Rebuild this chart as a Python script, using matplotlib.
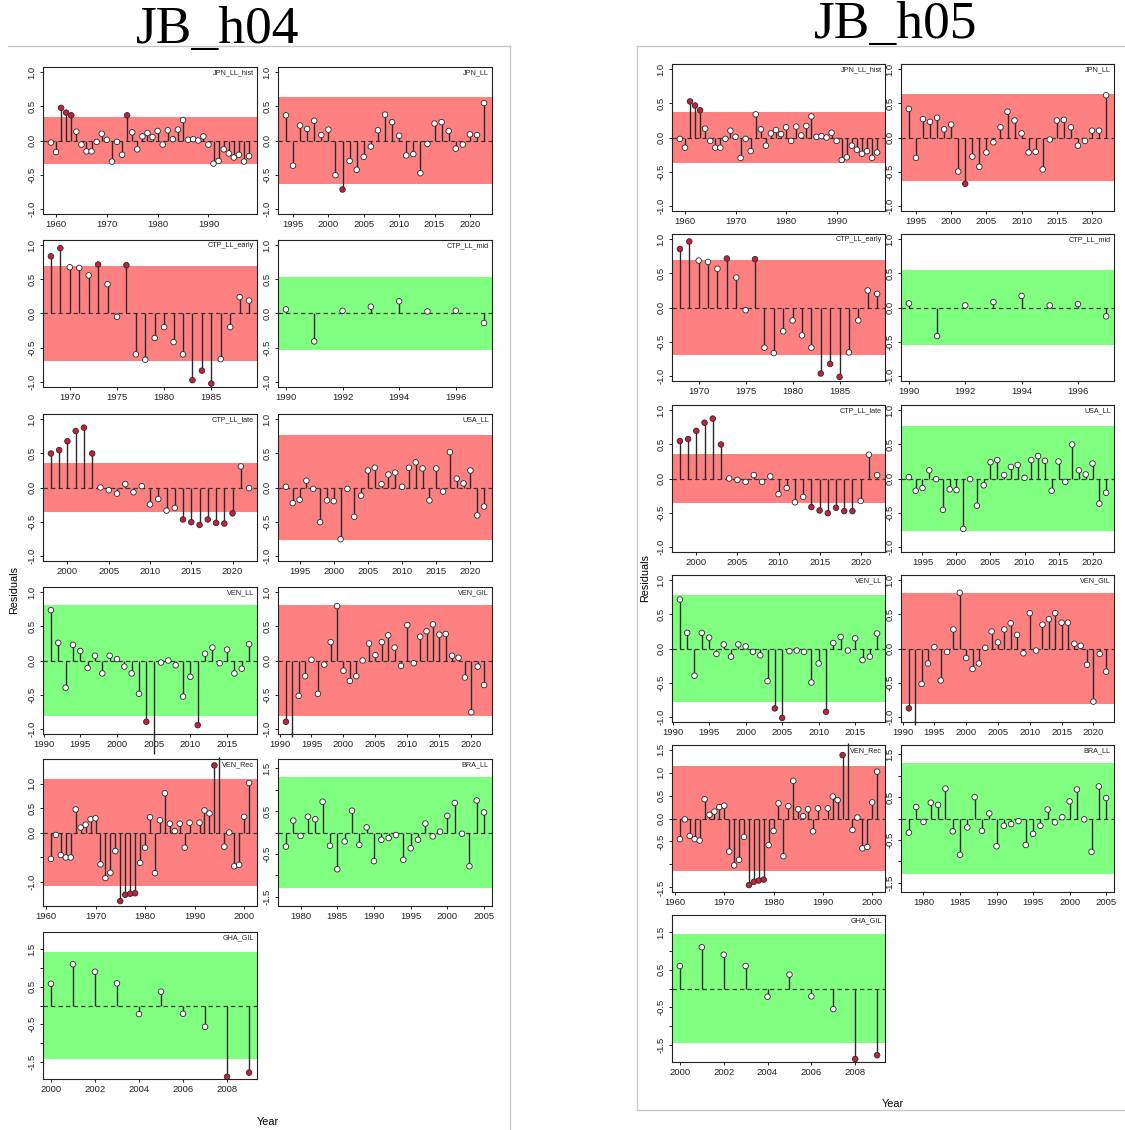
import numpy as np
import matplotlib
matplotlib.use("Agg")
import matplotlib.pyplot as plt
from matplotlib.ticker import MultipleLocator, FixedLocator, FixedFormatter
from matplotlib.lines import Line2D

plt.rcParams['font.family'] = ['Liberation Sans', 'DejaVu Sans']

# ---------------------------------------------------------------- data
fleets = ["JPN_LL_hist", "JPN_LL", "CTP_LL_early", "CTP_LL_mid", "CTP_LL_late",
          "USA_LL", "VEN_LL", "VEN_GIL", "VEN_Rec", "BRA_LL", "GHA_GIL"]

yrs_jpn_hist = np.arange(1959, 1999)
yrs_jpn = np.arange(1994, 2023)
yrs_ctp_early = np.arange(1968, 1990)
yrs_ctp_mid = np.arange(1990, 1998)
yrs_ctp_late = np.arange(1998, 2023)
yrs_usa = np.arange(1993, 2023)
yrs_ven_ll = np.arange(1991, 2019)
yrs_ven_gil = np.arange(1991, 2023)
yrs_ven_rec = np.arange(1961, 2002)
yrs_bra = np.arange(1978, 2006)
yrs_gha = np.arange(2000, 2010)

# ---- JB_h04 residuals (nan = no index value)
h04_jpn_hist = [-0.03, -0.17, 0.48, 0.41, 0.37, 0.13, -0.06, -0.16, -0.16, -0.02,
                0.10, 0.01, -0.31, -0.02, -0.21, 0.37, 0.12, -0.13, 0.06, 0.11,
                0.05, 0.14, -0.06, 0.15, 0.02, 0.16, 0.30, 0.01, 0.02, 0.00,
                0.06, -0.06, -0.34, -0.30, -0.13, -0.19, -0.25, -0.21, -0.31, -0.23]
h04_jpn = [0.37, -0.37, 0.22, 0.17, 0.29, 0.08, 0.16, -0.51, -0.72, -0.30,
           -0.43, -0.24, -0.09, 0.15, 0.38, 0.27, 0.07, -0.22, -0.20, -0.48,
           -0.05, 0.25, 0.27, 0.14, -0.12, -0.06, 0.09, 0.08, 0.55]
h04_ctp_early = [0.84, 0.96, 0.68, 0.67, 0.56, 0.72, 0.43, -0.05, 0.71, -0.60,
                 -0.68, -0.36, -0.20, -0.42, -0.60, -0.98, -0.84, -1.03, -0.67, -0.20,
                 0.24, 0.19]
h04_ctp_mid = [0.06, -0.41, 0.04, 0.10, 0.18, 0.03, 0.04, -0.14]
h04_ctp_late = [0.50, 0.55, 0.68, 0.83, 0.88, 0.50, 0.00, -0.04, -0.09, 0.05,
                -0.07, 0.02, -0.25, -0.17, -0.34, -0.30, -0.47, -0.51, -0.55, -0.47,
                -0.52, -0.53, -0.38, 0.31, -0.01]
h04_usa = [0.01, -0.23, -0.18, 0.10, -0.02, -0.51, -0.19, -0.20, -0.76, -0.02,
           -0.43, -0.12, 0.25, 0.29, 0.05, 0.19, 0.22, 0.01, 0.29, 0.37,
           0.28, -0.19, 0.28, -0.06, 0.52, 0.13, 0.06, 0.25, -0.41, -0.28]
h04_ven_ll = [0.74, 0.26, -0.40, 0.23, 0.14, -0.11, 0.07, -0.19, 0.07, 0.02,
              -0.09, -0.19, -0.49, -0.90, -1.37, -0.03, 0.00, -0.07, -0.53, -0.24,
              -0.95, 0.10, 0.19, -0.04, 0.16, -0.19, -0.12, 0.24]
h04_ven_gil = [-0.90, -1.12, -0.52, -0.23, 0.01, -0.49, -0.06, 0.27, 0.80, -0.15,
               -0.30, -0.23, 0.00, 0.25, 0.08, 0.27, 0.37, 0.19, -0.08, 0.52,
               -0.04, 0.35, 0.43, 0.53, 0.38, 0.39, 0.07, 0.04, -0.25, -0.76,
               -0.09, -0.36]
h04_ven_rec = [-0.54, -0.05, -0.46, -0.51, -0.51, 0.47, 0.10, 0.16, 0.27, 0.29,
               -0.65, -0.93, -0.82, -0.38, -1.40, -1.27, -1.25, -1.24, -0.62, -0.31,
               0.31, -0.83, 0.25, 0.80, 0.18, 0.03, 0.18, -0.31, 0.20, np.nan,
               0.20, 0.45, 0.39, 1.37, 1.55, -0.29, 0.00, -0.69, -0.66, 0.32,
               1.01]
h04_bra = [-0.33, 0.28, -0.08, 0.37, 0.31, 0.72, -0.31, -0.86, -0.21, 0.51,
           -0.29, 0.12, -0.67, -0.17, -0.13, -0.06, -0.64, -0.37, -0.17, 0.21,
           -0.09, 0.02, 0.39, 0.69, -0.03, -0.79, 0.75, 0.47]
h04_gha = [0.58, 1.10, 0.90, 0.59, -0.23, 0.37, -0.22, -0.57, -1.90, -1.79]

# ---- JB_h05 residuals
h05_jpn_hist = [-0.02, -0.15, 0.53, 0.47, 0.40, 0.13, -0.05, -0.15, -0.15, -0.02,
                0.10, 0.01, -0.30, -0.02, -0.20, 0.34, 0.12, -0.12, 0.06, 0.11,
                0.05, 0.15, -0.05, 0.16, 0.03, 0.17, 0.31, 0.01, 0.02, 0.00,
                0.07, -0.05, -0.33, -0.29, -0.12, -0.18, -0.24, -0.20, -0.30, -0.22]
h05_jpn = [0.42, -0.30, 0.27, 0.23, 0.29, 0.12, 0.19, -0.50, -0.68, -0.28,
           -0.43, -0.22, -0.07, 0.15, 0.38, 0.25, 0.06, -0.22, -0.21, -0.47,
           -0.03, 0.25, 0.26, 0.15, -0.12, -0.05, 0.10, 0.10, 0.62]
h05_ctp_early = [0.86, 0.97, 0.69, 0.67, 0.57, 0.72, 0.44, -0.04, 0.71, -0.59,
                 -0.67, -0.35, -0.19, -0.41, -0.59, -0.97, -0.83, -1.02, -0.66, -0.19,
                 0.25, 0.20]
h05_ctp_mid = [0.06, -0.42, 0.03, 0.08, 0.17, 0.03, 0.05, -0.13]
h05_ctp_late = [0.55, 0.58, 0.70, 0.82, 0.88, 0.50, 0.00, -0.02, -0.05, 0.05,
                -0.05, 0.03, -0.23, -0.14, -0.35, -0.27, -0.42, -0.47, -0.51, -0.43,
                -0.48, -0.48, -0.33, 0.35, 0.05]
h05_usa = [0.02, -0.18, -0.14, 0.12, -0.01, -0.46, -0.16, -0.17, -0.74, -0.01,
           -0.40, -0.10, 0.24, 0.27, 0.05, 0.17, 0.20, 0.01, 0.27, 0.33,
           0.26, -0.18, 0.25, -0.05, 0.50, 0.12, 0.06, 0.22, -0.37, -0.21]
h05_ven_ll = [0.72, 0.23, -0.40, 0.23, 0.16, -0.08, 0.06, -0.12, 0.06, 0.03,
              -0.05, -0.10, -0.48, -0.88, -1.02, -0.04, -0.03, -0.05, -0.50, -0.22,
              -0.93, 0.08, 0.17, -0.03, 0.15, -0.17, -0.12, 0.22]
h05_ven_gil = [-0.88, -1.12, -0.52, -0.22, 0.02, -0.47, -0.05, 0.28, 0.82, -0.14,
               -0.30, -0.22, 0.01, 0.25, 0.09, 0.28, 0.37, 0.20, -0.07, 0.52,
               -0.03, 0.35, 0.43, 0.52, 0.38, 0.38, 0.07, 0.04, -0.24, -0.78,
               -0.08, -0.34]
h05_ven_rec = [-0.45, -0.02, -0.38, -0.45, -0.48, 0.42, 0.08, 0.15, 0.25, 0.28,
               -0.72, -1.02, -0.90, -0.40, -1.45, -1.38, -1.35, -1.33, -0.58, -0.27,
               0.33, -0.82, 0.27, 0.82, 0.20, 0.05, 0.20, -0.28, 0.22, np.nan,
               0.22, 0.48, 0.40, 1.38, 1.65, -0.25, 0.02, -0.65, -0.62, 0.35,
               1.02]
h05_bra = [-0.33, 0.27, -0.08, 0.37, 0.32, 0.70, -0.30, -0.85, -0.21, 0.50,
           -0.29, 0.12, -0.65, -0.17, -0.13, -0.06, -0.62, -0.36, -0.17, 0.21,
           -0.09, 0.03, 0.40, 0.68, -0.02, -0.78, 0.75, 0.48]
h05_gha = [0.60, 1.10, 0.90, 0.60, -0.22, 0.37, -0.21, -0.55, -1.88, -1.78]

# Acceptance band (+/- limit) for each fleet and whether the runs test passed
h04_band = [0.35, 0.64, 0.695, 0.54, 0.365, 0.77, 0.81, 0.81, 1.10, 1.30, 1.43]
h04_pass = [False, False, False, True, False, False, True, False, False, True, True]
h05_band = [0.37, 0.64, 0.695, 0.55, 0.365, 0.77, 0.79, 0.82, 1.15, 1.30, 1.45]
h05_pass = [False, False, False, True, False, True, True, False, False, True, True]

# y-axis half range per fleet
h04_ylim = [1.08, 1.08, 1.08, 1.08, 1.08, 1.08, 1.08, 1.08, 1.50, 1.72, 1.96]
h05_ylim = [1.08, 1.08, 1.08, 1.08, 1.08, 1.08, 1.08, 1.08, 1.60, 1.72, 1.96]

year_sets = [yrs_jpn_hist, yrs_jpn, yrs_ctp_early, yrs_ctp_mid, yrs_ctp_late,
             yrs_usa, yrs_ven_ll, yrs_ven_gil, yrs_ven_rec, yrs_bra, yrs_gha]
h04_vals = [h04_jpn_hist, h04_jpn, h04_ctp_early, h04_ctp_mid, h04_ctp_late,
            h04_usa, h04_ven_ll, h04_ven_gil, h04_ven_rec, h04_bra, h04_gha]
h05_vals = [h05_jpn_hist, h05_jpn, h05_ctp_early, h05_ctp_mid, h05_ctp_late,
            h05_usa, h05_ven_ll, h05_ven_gil, h05_ven_rec, h05_bra, h05_gha]
x_steps = [10, 5, 5, 2, 5, 5, 5, 5, 10, 5, 2]

# ---------------------------------------------------------------- styling
RED_BAND = '#ff8080'
GREEN_BAND = '#80ff80'
OUT_PT = '#c4203c'
STEM = '#2b2b2b'

W_PX, H_PX = 1125, 1130
fig = plt.figure(figsize=(W_PX / 100, H_PX / 100), dpi=100)


def px_axes(left, top, width, height):
    return fig.add_axes([left / W_PX, 1 - (top + height) / H_PX,
                         width / W_PX, height / H_PX])


def y_ticks(lim):
    if lim < 1.2:
        t = [-1.0, -0.5, 0.0, 0.5, 1.0]
        lab = ['-1.0', '-0.5', '0.0', '0.5', '1.0']
    elif lim < 1.55:
        t = [-1.0, -0.5, 0.0, 0.5, 1.0]
        lab = ['-1.0', '', '0.0', '0.5', '1.0']
    elif lim < 1.65:
        t = [-1.5, -1.0, -0.5, 0.0, 0.5, 1.0, 1.5]
        lab = ['-1.5', '', '-0.5', '0.0', '0.5', '1.0', '1.5']
    else:
        t = [-1.5, -1.0, -0.5, 0.0, 0.5, 1.0, 1.5]
        lab = ['-1.5', '', '-0.5', '', '0.5', '', '1.5']
    return t, lab


def draw_fleet(ax, name, years, vals, band, passed, ylim, step):
    years = np.asarray(years, dtype=float)
    vals = np.asarray(vals, dtype=float)
    ok = ~np.isnan(vals)
    rng = years.max() - years.min()
    ax.set_xlim(years.min() - 0.04 * rng, years.max() + 0.04 * rng)
    ax.set_ylim(-ylim, ylim)
    ax.axhspan(-band, band, color=GREEN_BAND if passed else RED_BAND, lw=0, zorder=0)
    ax.axhline(0, color='#3a3a3a', lw=0.9, ls=(0, (3.5, 2.5)), zorder=1)
    ax.vlines(years[ok], 0, vals[ok], color=STEM, lw=1.0, zorder=2, clip_on=False)
    outside = np.abs(vals[ok]) > band
    face = np.where(outside, OUT_PT, 'white')
    ax.scatter(years[ok], vals[ok], s=16, c=list(face), edgecolors='#2b2b2b',
               linewidths=0.6, zorder=3)
    ax.text(0.985, 0.985, name, transform=ax.transAxes, ha='right', va='top',
            fontsize=5.2, color='#222222')
    ax.xaxis.set_major_locator(MultipleLocator(step))
    ax.xaxis.set_major_formatter(matplotlib.ticker.FormatStrFormatter('%d'))
    t, lab = y_ticks(ylim)
    ax.yaxis.set_major_locator(FixedLocator(t))
    ax.yaxis.set_major_formatter(FixedFormatter(lab))
    ax.tick_params(axis='both', labelsize=6.8, length=2.5, width=0.7,
                   pad=2, colors='#222222')
    for lbl in ax.get_yticklabels():
        lbl.set_rotation(90)
        lbl.set_va('center')
    for sp in ax.spines.values():
        sp.set_linewidth(0.8)
        sp.set_color('#222222')


def draw_model(title, title_xy, vals_list, bands, passes, ylims,
               col_left, width, row_tops, ylab_xy, xlab_xy):
    for i, name in enumerate(fleets):
        r, c = divmod(i, 2)
        ax = px_axes(col_left[c], row_tops[r], width, 147)
        draw_fleet(ax, name, year_sets[i], vals_list[i], bands[i], passes[i],
                   ylims[i], x_steps[i])
    fig.text(title_xy[0] / W_PX, 1 - title_xy[1] / H_PX, title,
             family=['Liberation Serif', 'DejaVu Serif'], fontsize=38.5,
             ha='center', va='center', color='black')
    fig.text(ylab_xy[0] / W_PX, 1 - ylab_xy[1] / H_PX, 'Residuals',
             rotation=90, ha='center', va='center', fontsize=7.8)
    fig.text(xlab_xy[0] / W_PX, 1 - xlab_xy[1] / H_PX, 'Year',
             ha='center', va='center', fontsize=7.8)


draw_model('JB_h04', (218, 30), h04_vals, h04_band, h04_pass, h04_ylim,
           [43, 278], 214, [67, 240, 414, 587, 759, 932], (14, 590), (268, 1122))
draw_model('JB_h05', (896, 25), h05_vals, h05_band, h05_pass, h05_ylim,
           [672, 901], 213, [64, 234, 405, 575, 745, 915], (645, 578), (893, 1104))

# frames around the two model blocks
frame = '#c8c8c8'
def seg(x0, y0, x1, y1):
    fig.add_artist(Line2D([x0 / W_PX, x1 / W_PX], [1 - y0 / H_PX, 1 - y1 / H_PX],
                          color=frame, lw=1.0))

seg(8, 46, 510, 46)
seg(510, 46, 510, 1130)
seg(637, 46, 1125, 46)
seg(637, 46, 637, 1110)
seg(637, 1110, 1125, 1110)

fig.savefig('out.png', dpi=100, facecolor='white')
